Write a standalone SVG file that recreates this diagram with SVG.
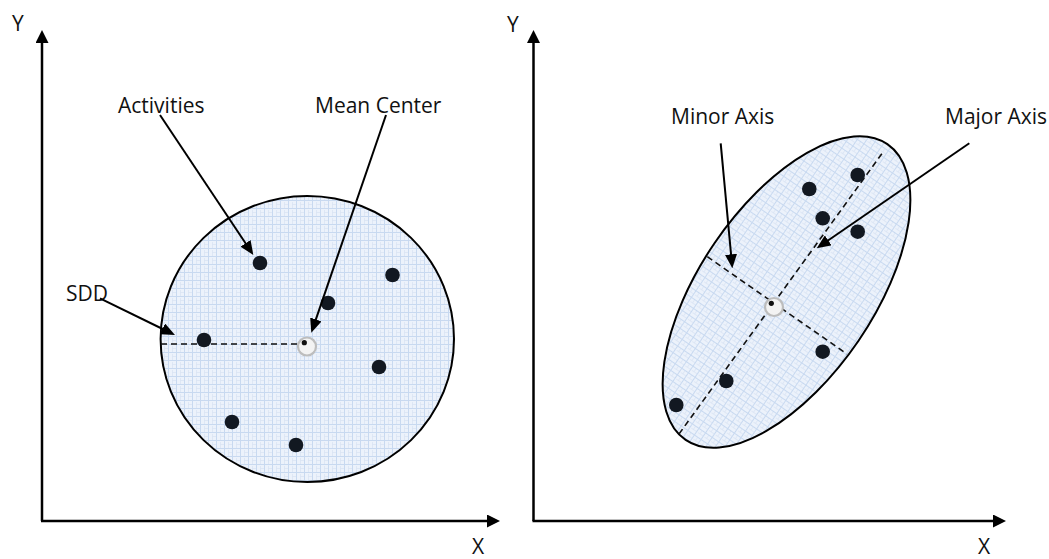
<svg xmlns="http://www.w3.org/2000/svg" width="1049" height="559" viewBox="0 0 1049 559">
<style>
text{font-family:"Open Sans","Liberation Sans",sans-serif;font-size:21px;fill:#111}
.axis{stroke:#000;stroke-width:2.5;fill:none}
.ptr{stroke:#000;stroke-width:2;fill:none}
.dash{stroke:#111;stroke-width:1.6;stroke-dasharray:6 4;fill:none}
.shape{fill:url(#grid);stroke:#000;stroke-width:2}
.dot{fill:#121821}
.ring{fill:#f3f3f3;stroke:#bdbdbd;stroke-width:2.2}
.mc{fill:#111}
</style>
<defs>
<pattern id="grid" width="8" height="8" patternUnits="userSpaceOnUse">
<rect width="8" height="8" fill="#ecf2fb"/>
<path d="M0 0.5H8M0.5 0V8" stroke="#c8d9f0" stroke-width="1"/>
<path d="M4 4.5H8M4.5 2V8" stroke="#dae5f4" stroke-width="0.8"/>
</pattern>
<marker id="axhead" viewBox="0 0 13 13" markerWidth="13" markerHeight="13" markerUnits="userSpaceOnUse" refX="0" refY="6.5" orient="auto">
<path d="M0 0L13 6.5L0 13z" fill="#000"/>
</marker>
<marker id="head" viewBox="0 0 14 12" markerWidth="14" markerHeight="12" markerUnits="userSpaceOnUse" refX="6" refY="6" orient="auto">
<path d="M0 0L14 6L0 12z" fill="#000"/>
</marker>
</defs>

<g id="left-axes">
<line class="axis" x1="42" y1="521" x2="42" y2="43" marker-end="url(#axhead)"/>
<line class="axis" x1="41" y1="521" x2="487" y2="521" marker-end="url(#axhead)"/>
<text x="12" y="31">Y</text>
<text x="472" y="554">X</text>
</g>

<g id="sdd-circle">
<ellipse class="shape" cx="307.3" cy="339" rx="146.7" ry="143"/>
<line class="dash" x1="161" y1="344" x2="304" y2="344"/>
</g>

<g id="left-activities">
<circle class="dot" cx="260" cy="263" r="7.3"/>
<circle class="dot" cx="328" cy="303" r="7.3"/>
<circle class="dot" cx="392.5" cy="275" r="7.3"/>
<circle class="dot" cx="204" cy="340" r="7.3"/>
<circle class="dot" cx="379" cy="367" r="7.3"/>
<circle class="dot" cx="232" cy="422" r="7.3"/>
<circle class="dot" cx="296" cy="445" r="7.3"/>
</g>

<g id="left-mean-center">
<circle class="ring" cx="307" cy="346.5" r="9"/>
<circle class="mc" cx="304.3" cy="342.7" r="2.6"/>
</g>

<g id="left-labels">
<text x="118" y="113">Activities</text>
<text x="315" y="113">Mean Center</text>
<text x="66" y="301">SDD</text>
</g>

<g id="right-axes">
<line class="axis" x1="533.5" y1="521" x2="533.5" y2="43" marker-end="url(#axhead)"/>
<line class="axis" x1="532.5" y1="521" x2="993" y2="521" marker-end="url(#axhead)"/>
<text x="507" y="32">Y</text>
<text x="978" y="554">X</text>
</g>

<g id="sde-ellipse">
<ellipse class="shape" cx="786.5" cy="292" rx="179" ry="87" transform="rotate(-55.7 786.5 292)"/>
<line class="dash" x1="679" y1="434" x2="883.3" y2="151.7"/>
<line class="dash" x1="707.3" y1="256.7" x2="847" y2="354"/>
</g>

<g id="right-activities">
<circle class="dot" cx="857.7" cy="175" r="7.3"/>
<circle class="dot" cx="809.3" cy="189" r="7.3"/>
<circle class="dot" cx="822.7" cy="218.3" r="7.3"/>
<circle class="dot" cx="857.7" cy="231.7" r="7.3"/>
<circle class="dot" cx="822.7" cy="351.7" r="7.3"/>
<circle class="dot" cx="726.3" cy="381" r="7.3"/>
<circle class="dot" cx="676.3" cy="405" r="7.3"/>
</g>

<g id="right-mean-center">
<circle class="ring" cx="774" cy="307" r="9"/>
<circle class="mc" cx="771.3" cy="303.3" r="2.6"/>
</g>

<g id="right-labels">
<text x="671" y="124">Minor Axis</text>
<text x="945" y="124">Major Axis</text>
</g>

<g id="connectors">
<line class="ptr" x1="160" y1="115" x2="248.9" y2="248.3" marker-end="url(#head)"/>
<line class="ptr" x1="386" y1="115" x2="313.9" y2="325.1" marker-end="url(#head)"/>
<line class="ptr" x1="100" y1="298.3" x2="167.8" y2="331.5" marker-end="url(#head)"/>
<line class="ptr" x1="720.7" y1="143.3" x2="731.6" y2="260.3" marker-end="url(#head)"/>
<line class="ptr" x1="969.3" y1="143.3" x2="823.3" y2="243.8" marker-end="url(#head)"/>
</g>
</svg>
